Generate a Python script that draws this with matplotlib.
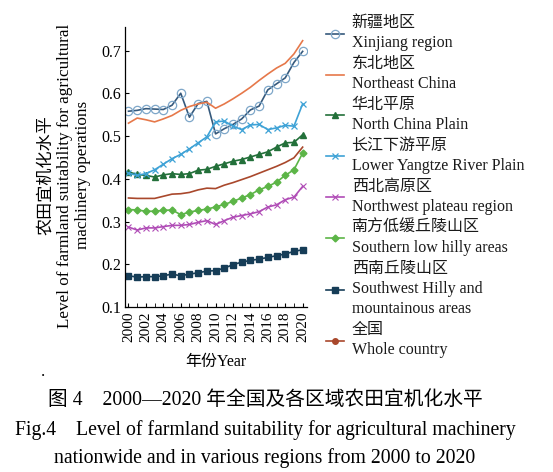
import numpy as np
import matplotlib
matplotlib.use("Agg")
import matplotlib.pyplot as plt
from matplotlib.ticker import MultipleLocator

FONTS = ["Liberation Serif", "Noto Sans CJK SC"]
plt.rcParams["font.family"] = FONTS

years = np.arange(2000, 2021)

xinjiang = [0.558, 0.560, 0.564, 0.563, 0.562, 0.572, 0.600, 0.544, 0.576, 0.581,
            0.505, 0.517, 0.527, 0.540, 0.561, 0.570, 0.608, 0.622, 0.636, 0.672, 0.698]
northeast = [0.530, 0.542, 0.538, 0.533, 0.540, 0.548, 0.560, 0.569, 0.575, 0.579,
             0.565, 0.575, 0.587, 0.600, 0.614, 0.630, 0.645, 0.659, 0.670, 0.692, 0.723]
north_china = [0.416, 0.410, 0.408, 0.404, 0.409, 0.412, 0.410, 0.412, 0.420, 0.422,
               0.429, 0.435, 0.441, 0.445, 0.451, 0.457, 0.463, 0.474, 0.484, 0.485, 0.503]
lower_yangtze = [0.413, 0.408, 0.412, 0.421, 0.434, 0.447, 0.457, 0.470, 0.484, 0.498,
                 0.533, 0.535, 0.523, 0.515, 0.526, 0.527, 0.515, 0.519, 0.525, 0.523, 0.575]
northwest = [0.287, 0.280, 0.285, 0.285, 0.288, 0.291, 0.291, 0.293, 0.298, 0.302,
             0.293, 0.302, 0.310, 0.314, 0.318, 0.323, 0.334, 0.339, 0.351, 0.357, 0.382]
southern = [0.328, 0.327, 0.324, 0.324, 0.326, 0.327, 0.316, 0.322, 0.326, 0.329,
            0.334, 0.340, 0.347, 0.355, 0.363, 0.374, 0.382, 0.392, 0.408, 0.421, 0.460]
southwest = [0.173, 0.170, 0.171, 0.171, 0.173, 0.177, 0.173, 0.177, 0.180, 0.184,
             0.185, 0.191, 0.199, 0.205, 0.209, 0.212, 0.216, 0.220, 0.224, 0.230, 0.234]
whole = [0.355, 0.354, 0.354, 0.354, 0.359, 0.364, 0.365, 0.368, 0.374, 0.378,
         0.377, 0.385, 0.391, 0.398, 0.405, 0.413, 0.421, 0.429, 0.438, 0.449, 0.474]

labels = [
    "新疆地区\nXinjiang region",
    "东北地区\nNortheast China",
    "华北平原\nNorth China Plain",
    "长江下游平原\nLower Yangtze River Plain",
    "西北高原区\nNorthwest plateau region",
    "南方低缓丘陵山区\nSouthern low hilly areas",
    "西南丘陵山区\nSouthwest Hilly and\nmountainous areas",
    "全国\nWhole country",
]

fig = plt.figure(figsize=(5.53, 4.72), dpi=100)
ax = fig.add_axes([125 / 553, 1 - 307 / 472, 182 / 553, 280 / 472])

lw = 1.2
h = []
h += ax.plot(years, xinjiang, color="#35597c", lw=lw, marker="o", ms=6,
             mfc="none", mec="#7ea7c9", mew=0.9)
h += ax.plot(years, northeast, color="#e6784a", lw=lw)
h += ax.plot(years, north_china, color="#23703a", lw=lw, marker="^", ms=5)
h += ax.plot(years, lower_yangtze, color="#3ea2d6", lw=lw, marker="x", ms=4.5, mew=0.9)
h += ax.plot(years, northwest, color="#b04cb6", lw=lw, marker="x", ms=4, mew=0.8)
h += ax.plot(years, southern, color="#5cb547", lw=lw, marker="D", ms=3.5)
h += ax.plot(years, southwest, color="#163d57", lw=lw, marker="s", ms=5)
h += ax.plot(years, whole, color="#a9482c", lw=lw)

ax.set_xlim(1999.6, 2020.5)
ax.set_ylim(0.1, 0.755)
ax.xaxis.set_major_locator(MultipleLocator(2))
ax.xaxis.set_minor_locator(MultipleLocator(1))
ax.set_yticks(np.arange(0.1, 0.71, 0.1))
ax.set_yticklabels([f"{v:.1f}" for v in np.arange(0.1, 0.71, 0.1)])
ax.tick_params(axis="x", which="both", direction="in", length=3, labelsize=11,
               labelrotation=90, pad=3)
ax.tick_params(axis="y", direction="in", length=3, labelsize=11.5, pad=3)
for s in ["top", "right"]:
    ax.spines[s].set_visible(False)
for s in ["left", "bottom"]:
    ax.spines[s].set_linewidth(0.9)

ax.set_xlabel("年份Year", fontsize=11.5, labelpad=9)
ax.set_ylabel("农田宜机化水平\nLevel of farmland suitability for agricultural\nmachinery operations",
              fontsize=12.3, linespacing=1.22)
ax.yaxis.set_label_coords(-0.186, 0.47)

leg = fig.legend(h, labels, loc="upper left", bbox_to_anchor=(326 / 553, 1 - 15 / 472),
                 frameon=False, borderpad=0, borderaxespad=0, handlelength=1.1,
                 handletextpad=0.5, labelspacing=0.3, fontsize=11.5)
for t in leg.get_texts():
    t.set_linespacing(1.35)
    t.set_color("#1a1a1a")
leg.legend_handles[7].set_marker("o")
leg.legend_handles[7].set_markersize(4)

cx = 265 / 553
fig.text(43 / 553, 1 - 372 / 472, ".", fontsize=12, ha="center", va="center")
fig.text(cx, 1 - 400 / 472, "图 4    2000—2020 年全国及各区域农田宜机化水平",
         fontsize=14.2, ha="center", va="center")
fig.text(cx, 1 - 430 / 472,
         "Fig.4    Level of farmland suitability for agricultural machinery",
         fontsize=14.2, ha="center", va="center")
fig.text(cx, 1 - 458 / 472, "nationwide and in various regions from 2000 to 2020",
         fontsize=14.2, ha="center", va="center")

fig.savefig("out.png", dpi=100)
